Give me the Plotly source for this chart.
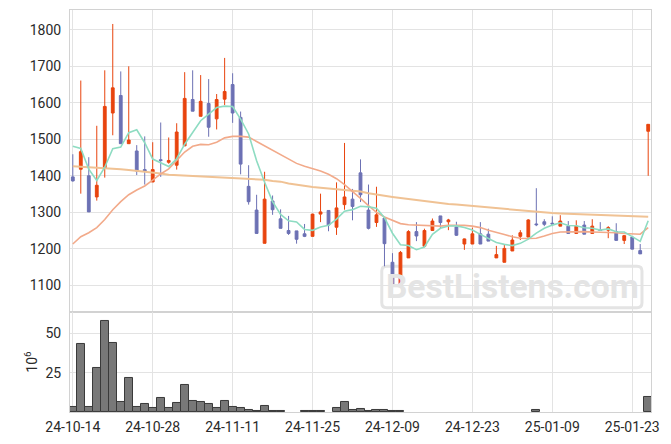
import plotly.graph_objects as go
from plotly.subplots import make_subplots

dates = [
    "24-10-14", "24-10-15", "24-10-16", "24-10-17", "24-10-18", "24-10-21", "24-10-22", "24-10-23",
    "24-10-24", "24-10-25", "24-10-28", "24-10-29", "24-10-30", "24-10-31", "24-11-01", "24-11-04",
    "24-11-05", "24-11-06", "24-11-07", "24-11-08", "24-11-11", "24-11-12", "24-11-13", "24-11-14",
    "24-11-15", "24-11-18", "24-11-19", "24-11-20", "24-11-21", "24-11-22", "24-11-25", "24-11-26",
    "24-11-27", "24-11-28", "24-11-29", "24-12-02", "24-12-03", "24-12-04", "24-12-05", "24-12-06",
    "24-12-09", "24-12-10", "24-12-11", "24-12-12", "24-12-13", "24-12-16", "24-12-17", "24-12-18",
    "24-12-19", "24-12-20", "24-12-23", "24-12-24", "24-12-26", "24-12-27", "24-12-30", "25-01-02",
    "25-01-03", "25-01-06", "25-01-07", "25-01-08", "25-01-09", "25-01-10", "25-01-13", "25-01-14",
    "25-01-15", "25-01-16", "25-01-17", "25-01-20", "25-01-21", "25-01-22", "25-01-23", "25-01-24",
    "25-01-31",
]

opens = [1397, 1418, 1400, 1342, 1420, 1572, 1620, 1488, 1468, 1417, 1383, 1444, 1437, 1429, 1482, 1609,
         1563, 1598, 1556, 1610, 1650, 1560, 1371, 1306, 1215, 1331, 1282, 1250, 1249, 1241, 1234, 1295,
         1305, 1259, 1321, 1336, 1408, 1306, 1272, 1284, 1163, 1102, 1175, 1247, 1207, 1250, 1290, 1274,
         1260, 1213, 1213, 1241, 1240, 1175, 1163, 1194, 1234, 1232, 1268, 1274, 1270, 1262, 1262, 1242,
         1265, 1242, 1252, 1251, 1247, 1223, 1232, 1195, 1522]
highs = [1459, 1661, 1451, 1537, 1689, 1816, 1686, 1700, 1484, 1508, 1492, 1546, 1505, 1544, 1684, 1689,
         1676, 1665, 1624, 1723, 1681, 1576, 1429, 1348, 1411, 1346, 1308, 1290, 1249, 1268, 1296, 1351,
         1306, 1382, 1490, 1364, 1445, 1376, 1370, 1284, 1188, 1194, 1251, 1273, 1255, 1283, 1290, 1282,
         1274, 1228, 1258, 1273, 1255, 1208, 1212, 1237, 1251, 1281, 1366, 1281, 1289, 1292, 1276, 1278,
         1276, 1281, 1273, 1262, 1270, 1237, 1233, 1213, 1541]
lows = [1384, 1351, 1301, 1332, 1395, 1511, 1488, 1488, 1402, 1376, 1383, 1397, 1433, 1417, 1482, 1577,
        1563, 1507, 1527, 1594, 1545, 1404, 1321, 1242, 1215, 1293, 1256, 1238, 1214, 1232, 1234, 1273,
        1248, 1238, 1307, 1278, 1328, 1253, 1260, 1152, 1102, 1102, 1175, 1221, 1207, 1250, 1256, 1251,
        1235, 1197, 1213, 1213, 1221, 1175, 1163, 1194, 1224, 1232, 1262, 1262, 1262, 1262, 1242, 1242,
        1240, 1242, 1249, 1229, 1223, 1213, 1199, 1186, 1400]
closes = [1386, 1466, 1301, 1374, 1590, 1641, 1488, 1498, 1413, 1413, 1417, 1442, 1442, 1520, 1612, 1577,
          1604, 1533, 1609, 1631, 1572, 1432, 1329, 1242, 1336, 1307, 1256, 1242, 1226, 1234, 1295, 1301,
          1265, 1312, 1342, 1316, 1348, 1256, 1293, 1214, 1102, 1190, 1247, 1235, 1250, 1276, 1272, 1279,
          1237, 1227, 1241, 1213, 1221, 1184, 1201, 1224, 1244, 1279, 1266, 1267, 1268, 1276, 1242, 1262,
          1240, 1262, 1250, 1258, 1223, 1236, 1199, 1186, 1541]

ma5 = [1481, 1475, 1418, 1387, 1423.4, 1474.4, 1478.8, 1518.2, 1526.0, 1490.6, 1445.8, 1436.6, 1425.4,
       1446.8, 1486.6, 1518.6, 1551.0, 1569.2, 1587.0, 1590.8, 1589.8, 1555.4, 1514.6, 1441.2, 1382.2,
       1329.2, 1294.0, 1276.6, 1273.4, 1253.0, 1250.6, 1259.6, 1264.2, 1281.4, 1303.0, 1307.2, 1316.6,
       1314.8, 1311.0, 1285.4, 1242.6, 1211.0, 1209.2, 1197.6, 1204.8, 1239.6, 1256.0, 1262.4, 1262.8,
       1258.2, 1251.2, 1239.4, 1227.8, 1217.2, 1212.0, 1208.6, 1214.8, 1226.4, 1242.8, 1256.0, 1264.8,
       1271.2, 1263.8, 1263.0, 1257.6, 1256.4, 1251.2, 1254.4, 1246.6, 1245.8, 1233.2, 1220.4, 1277.0]
ma20 = [1213, 1233, 1244, 1258, 1280, 1307, 1329, 1348, 1361, 1372, 1388, 1405, 1419, 1442, 1465, 1481,
        1486, 1485, 1492, 1504, 1508, 1508, 1506, 1494, 1482, 1468, 1456, 1444, 1434, 1426, 1420, 1413,
        1404, 1392, 1376, 1358, 1338, 1318, 1300, 1287, 1277, 1269, 1266, 1265, 1264, 1262, 1262, 1264,
        1265, 1264, 1262, 1258, 1251, 1244, 1239, 1233, 1229, 1228, 1229, 1235, 1242, 1246, 1247, 1247,
        1247, 1246, 1246, 1245, 1244, 1242, 1241, 1240, 1258]
ma60 = [1426, 1425, 1424, 1423, 1422, 1420, 1418, 1416, 1414, 1412, 1410, 1406, 1403, 1402, 1401, 1400,
        1399, 1398, 1397, 1396, 1395, 1394, 1392, 1391, 1389, 1386, 1384, 1379, 1375, 1371, 1369, 1367,
        1365, 1363, 1361, 1359, 1357, 1352, 1348, 1345, 1342, 1339, 1336, 1333, 1331, 1328, 1326, 1323,
        1321, 1319, 1316, 1314, 1312, 1310, 1308, 1307, 1305, 1303, 1301, 1300, 1298, 1297, 1296, 1295,
        1294, 1293, 1292, 1291, 1290, 1289, 1288, 1288, 1288]

volume_m = [3.0, 43.1, 3.0, 27.7, 58.1, 43.8, 6.3, 21.4, 3.0, 4.9, 2.3, 8.7, 2.3, 5.5, 16.9, 7.0,
            6.1, 4.9, 2.3, 6.8, 3.0, 2.3, 1.0, 0.4, 3.6, 0.4, 0.4, 0.0, 0.0, 0.4, 0.4, 0.4,
            0.0, 2.3, 6.1, 1.0, 1.7, 0.6, 1.0, 1.0, 0.4, 0.4, 0.0, 0.0, 0.0, 0.0, 0.0, 0.0,
            0.0, 0.0, 0.0, 0.0, 0.0, 0.0, 0.0, 0.0, 0.0, 0.0, 1.0, 0.0, 0.0, 0.0, 0.0, 0.0,
            0.0, 0.0, 0.0, 0.0, 0.0, 0.0, 0.0, 0.0, 9.5]

price_ticks = [1100, 1200, 1300, 1400, 1500, 1600, 1700, 1800]
volume_ticks = [25, 50]
date_ticks = ["24-10-14", "24-10-28", "24-11-11", "24-11-25", "24-12-09", "24-12-23", "25-01-09", "25-01-23"]

watermark_text = "BestListens.com"
watermark_x = "25-01-02"
watermark_y = 1089

UP = "#e8440e"
DOWN = "#6c71b4"
GRID = "#e3e3e3"
AXLINE = "#d2d2d2"
FONT = dict(family="Roboto", size=14, color="#2a2a2a")

fig = make_subplots(rows=2, cols=1, shared_xaxes=True, vertical_spacing=0,
                    row_heights=[0.7512, 0.2488])

# watermark (drawn first so that it stays under the candles)
fig.add_trace(go.Scatter(x=[watermark_x], y=[watermark_y], mode="text",
                         text=["<b>" + watermark_text + "</b>"],
                         textfont=dict(family="Roboto", size=33.5, color="#e4e4e4"),
                         textposition="middle center", hoverinfo="skip", showlegend=False),
              row=1, col=1)

fig.add_trace(go.Scatter(x=dates, y=ma60, mode="lines", line=dict(color="#f0c294", width=2),
                         hoverinfo="skip", showlegend=False), row=1, col=1)
fig.add_trace(go.Scatter(x=dates, y=ma20, mode="lines", line=dict(color="#f2aa8a", width=1.6),
                         hoverinfo="skip", showlegend=False), row=1, col=1)
fig.add_trace(go.Scatter(x=dates, y=ma5, mode="lines", line=dict(color="#8edcc2", width=1.6),
                         hoverinfo="skip", showlegend=False), row=1, col=1)

fig.add_trace(go.Candlestick(x=dates, open=opens, high=highs, low=lows, close=closes,
                             increasing=dict(line=dict(color=UP, width=1), fillcolor=UP),
                             decreasing=dict(line=dict(color=DOWN, width=1), fillcolor=DOWN),
                             whiskerwidth=0, showlegend=False), row=1, col=1)

bar_edges = [1 if v > 0 else 0 for v in volume_m]
fig.add_trace(go.Bar(x=dates, y=volume_m,
                     marker=dict(color="#787878", line=dict(color="#3a3a3a", width=bar_edges)),
                     showlegend=False), row=2, col=1)

# rounded box of the watermark
px0, px1, py0, py1 = 382, 642, 268, 310
L, R, T, B = 70.5, 651, 9.3, 415.3
W, H = R - L, B - T
def to_paper(px, py):
    return (px - L) / W, (B - py) / H
r = 5
x0, y0 = to_paper(px0, py1)
x1, y1 = to_paper(px1, py0)
rx, ry = r / W, r / H
path = (f"M {x0+rx},{y0} L {x1-rx},{y0} Q {x1},{y0} {x1},{y0+ry} "
        f"L {x1},{y1-ry} Q {x1},{y1} {x1-rx},{y1} L {x0+rx},{y1} Q {x0},{y1} {x0},{y1-ry} "
        f"L {x0},{y0+ry} Q {x0},{y0} {x0+rx},{y0} Z")
fig.add_shape(type="path", path=path, xref="paper", yref="paper",
              line=dict(color="#e4e4e4", width=3), layer="below")

axis_common = dict(showgrid=True, gridcolor=GRID, gridwidth=1, showline=True, linecolor=AXLINE,
                   linewidth=1, mirror=True, zeroline=False, ticks="", tickfont=FONT)

fig.update_xaxes(type="category", categoryorder="array", categoryarray=dates,
                 range=[-0.35, 72.35], tickmode="array", tickvals=date_ticks,
                 rangeslider_visible=False, **axis_common)
fig.update_xaxes(showticklabels=False, row=1, col=1)
fig.update_xaxes(showticklabels=True, ticklabelstandoff=2, row=2, col=1)

fig.update_yaxes(range=[1026.8, 1854.3], tickmode="array", tickvals=price_ticks,
                 domain=[0.2488, 1], ticklabelstandoff=5, row=1, col=1, **axis_common)
fig.update_yaxes(range=[0, 63.6], tickmode="array", tickvals=volume_ticks,
                 domain=[0, 0.2488], ticklabelstandoff=5, row=2, col=1,
                 title=dict(text="10<sup>6</sup>", font=FONT, standoff=4), **axis_common)

fig.update_layout(width=671, height=444, margin=dict(l=70, r=20, t=9, b=29),
                  paper_bgcolor="white", plot_bgcolor="white", bargap=0, boxgap=0.5,
                  showlegend=False, font=FONT)

fig.write_html("out.html")
